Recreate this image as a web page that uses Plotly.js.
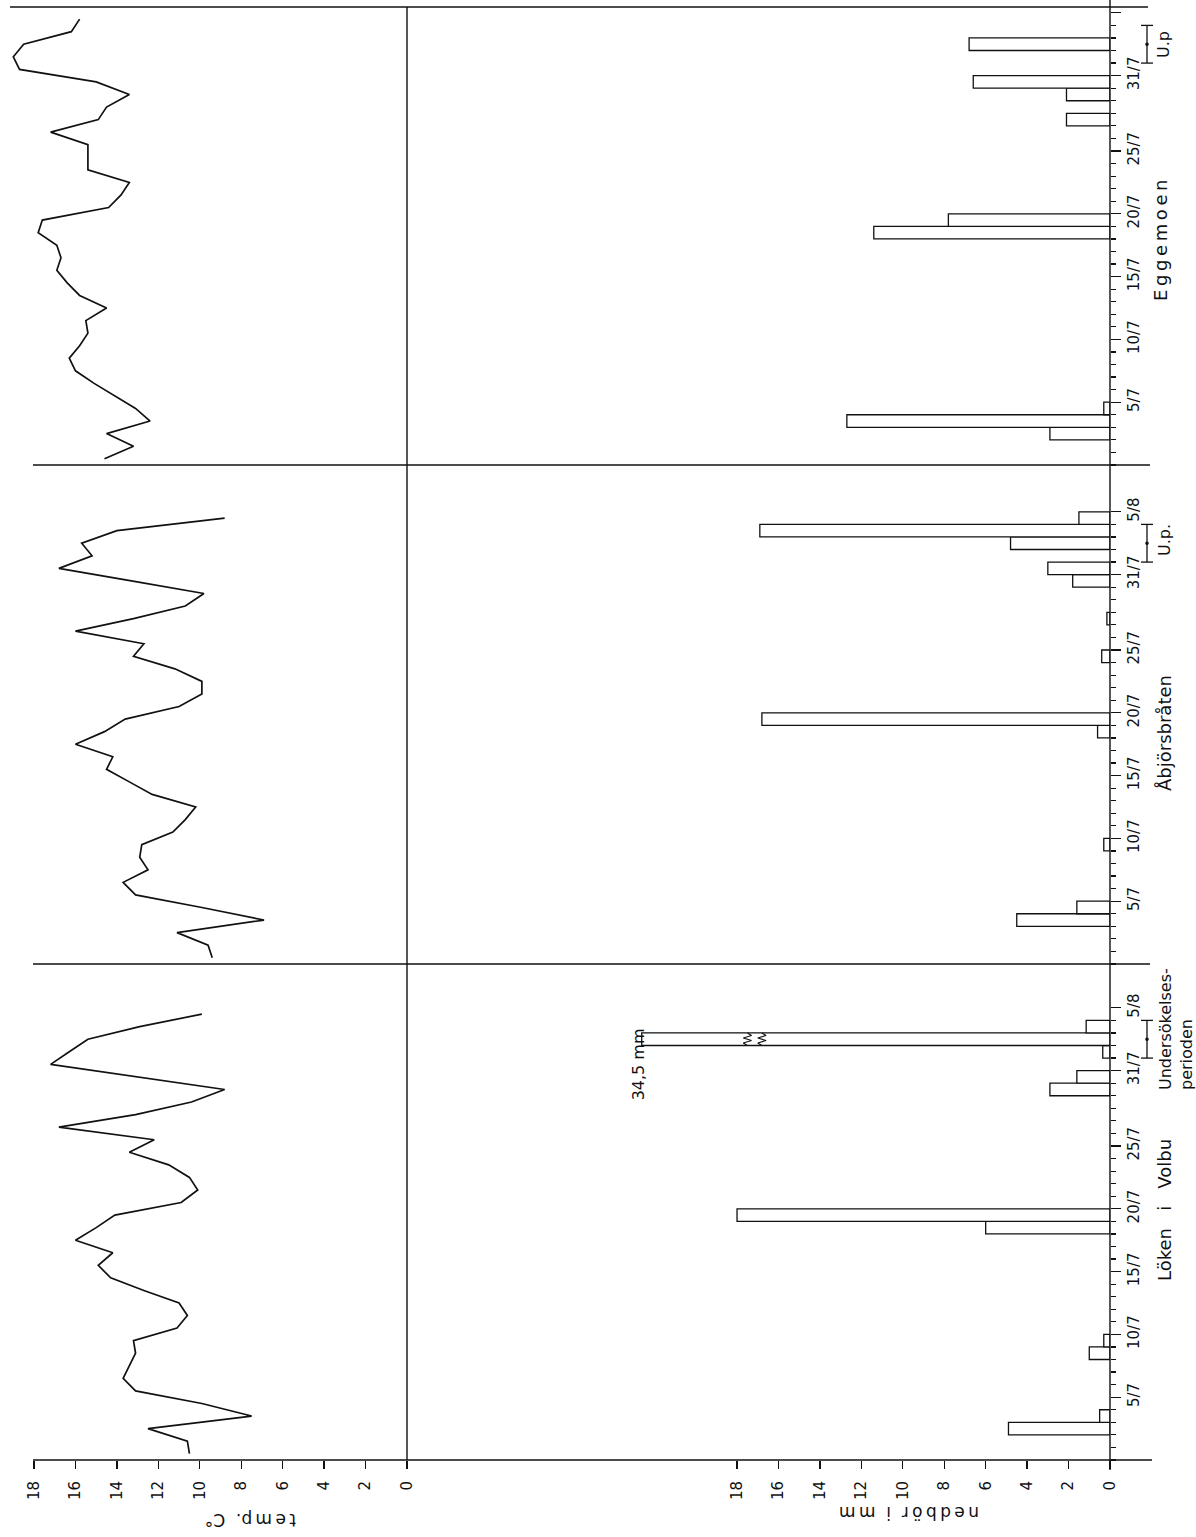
<!DOCTYPE html>
<html><head><meta charset="utf-8">
<script src="https://cdn.plot.ly/plotly-3.0.1.min.js"></script>
<style>html,body{margin:0;padding:0;background:#fff}#chart{width:1196px;height:1537px}</style>
</head><body><div id="chart"></div>
<script>
// ---------------- data ----------------
const dates = ['1/7','2/7','3/7','4/7','5/7','6/7','7/7','8/7','9/7','10/7','11/7','12/7','13/7','14/7','15/7','16/7','17/7','18/7','19/7','20/7','21/7','22/7','23/7','24/7','25/7','26/7','27/7','28/7','29/7','30/7','31/7','1/8','2/8','3/8','4/8','5/8'];
const tickLabels = ['5/7','10/7','15/7','20/7','25/7','31/7','5/8'];
const stations = ['Löken\u00a0\u00a0\u00a0i\u00a0\u00a0\u00a0Volbu','Åbjörsbråten','E\u2009g\u2009g\u2009e\u2009m\u2009o\u2009e\u2009n'];
const tempTicks = [0,2,4,6,8,10,12,14,16,18];
const precTicks = [0,2,4,6,8,10,12,14,16,18];
const upPeriod = ['1/8','4/8'];

// temperature (°C), one value per day
const tempLoken  = [10.5,10.6,12.5,7.5,9.9,13.1,13.7,13.4,13.1,13.2,11.1,10.6,11.0,12.7,14.3,14.9,14.2,16.0,15.0,14.1,10.9,10.1,10.5,11.5,13.4,12.2,16.8,13.1,10.4,8.8,13.1,17.2,16.3,15.4,12.9,9.9];
const tempAbjors = [9.4,9.6,11.1,6.9,9.9,13.1,13.7,12.5,12.9,12.8,11.3,10.7,10.2,12.3,13.4,14.5,14.2,16.0,14.6,13.6,11.0,9.9,9.9,11.2,13.2,12.7,16.0,13.2,10.7,9.8,13.3,16.8,15.2,15.7,14.0,8.8];
const tempEgge   = [14.6,13.2,14.5,12.4,13.1,14.1,15.1,16.0,16.3,15.8,15.4,15.5,14.5,15.8,16.4,16.9,16.7,16.9,17.8,17.6,14.4,13.8,13.4,15.4,15.4,15.4,17.2,14.9,14.5,13.4,15.0,18.7,19.0,18.5,16.2,15.8];

// precipitation (mm), one value per day
const precLoken  = [0,0,4.9,0.5,0,0,0,0,1.0,0.3,0,0,0,0,0,0,0,0,6.0,18.0,0,0,0,0,0,0,0,0,0,2.9,1.6,0,0.35,34.5,1.15,0];
const precAbjors = [0,0,0,4.5,1.6,0,0,0,0,0.3,0,0,0,0,0,0,0,0,0.6,16.8,0,0,0,0,0.4,0,0,0.15,0,0,1.8,3.0,0,4.8,16.9,1.5];
const precEgge   = [0,0,2.9,12.7,0.3,0,0,0,0,0,0,0,0,0,0,0,0,0,11.4,7.8,0,0,0,0,0,0,0,2.1,0,2.1,6.6,0,0,6.8,0,0];

// ---------------- layout constants ----------------
const W = 1196, H = 1537;
const X = px => px / W, Y = py => 1 - py / H;
const PXD = 12.56;         // px per day
const VPX = 20.72;         // px per unit on value axes
const ZERO_T = 407, ZERO_P = 1110, P_START = 430;
const BREAK_OVER = 20, BROKEN_LEN = 22.6;   // a bar above BREAK_OVER is drawn broken
const FONT = 'DejaVu Sans, Liberation Sans, sans-serif';
const INK = '#111';

const panels = [
  {ax:'y',  bot:1460, top:964, temp:tempLoken,  prec:precLoken},
  {ax:'y2', bot:964,  top:465, temp:tempAbjors, prec:precAbjors},
  {ax:'y3', bot:465,  top:7,   temp:tempEgge,   prec:precEgge}
];

const pos = dates.map((d, i) => i + 0.5);          // day interval centre
const tickPos = lbl => dates.indexOf(lbl) + 1;       // tick at end of the day interval

const traces = [];
const shapes = [];
const annotations = [];

panels.forEach(p => {
  traces.push({type:'scatter', mode:'lines', x:p.temp, y:pos, xaxis:'x', yaxis:p.ax,
    line:{color:INK, width:1.7}, hoverinfo:'skip', showlegend:false});
  const bx = [], by = [];
  p.prec.forEach((v, i) => { if (v > 0) { bx.push(v > BREAK_OVER ? BROKEN_LEN : v); by.push(pos[i]); } });
  traces.push({type:'bar', orientation:'h', x:bx, y:by, width:1, xaxis:'x2', yaxis:p.ax,
    marker:{color:'white', line:{color:INK, width:1.3}}, hoverinfo:'skip', showlegend:false});
  // broken-bar marks and value label
  p.prec.forEach((v, i) => {
    if (v > BREAK_OVER) {
      [17.5, 16.8].forEach(bx0 => {
        traces.push({type:'scatter', mode:'lines', xaxis:'x2', yaxis:p.ax, showlegend:false, hoverinfo:'skip',
          x:[bx0, bx0+0.2, bx0-0.2, bx0+0.2, bx0-0.2, bx0],
          y:[pos[i]-0.5, pos[i]-0.3, pos[i]-0.1, pos[i]+0.1, pos[i]+0.3, pos[i]+0.5],
          line:{color:INK, width:1.2}});
      });
      annotations.push({xref:'paper', yref:p.ax, x:X(638), y:pos[i] - 2.0, xanchor:'center', yanchor:'middle',
        text:v.toString().replace('.', ',') + '\u00a0mm', showarrow:false, textangle:-90,
        font:{family:FONT, size:16, color:INK}});
    }
  });
  // U.p. bracket
  const y0 = tickPos(upPeriod[0]), y1 = tickPos(upPeriod[1]), ym = (y0 + y1) / 2;
  shapes.push({type:'line', xref:'paper', yref:p.ax, x0:X(1147), x1:X(1147), y0:y0, y1:y1, line:{color:INK, width:1.3}});
  [y0, y1].forEach(yy => shapes.push({type:'line', xref:'paper', yref:p.ax, x0:X(1141), x1:X(1153), y0:yy, y1:yy, line:{color:INK, width:1.3}}));
  shapes.push({type:'circle', xref:'paper', yref:p.ax, xsizemode:'pixel', ysizemode:'pixel',
    xanchor:X(1147), yanchor:ym, x0:-1.8, x1:1.8, y0:-1.8, y1:1.8, fillcolor:INK, line:{width:0}});
});

// frame lines
const hl = (py, xa, xb) => shapes.push({type:'line', xref:'paper', yref:'paper', x0:X(xa), x1:X(xb), y0:Y(py), y1:Y(py), line:{color:INK, width:1.4}});
hl(7, 10, 1148); hl(465, 33, 1150); hl(964, 33, 1150); hl(1460, 33, 1152);
shapes.push({type:'line', xref:'paper', yref:'paper', x0:X(ZERO_T), x1:X(ZERO_T), y0:Y(7), y1:Y(1460), line:{color:INK, width:1.4}});
shapes.push({type:'line', xref:'paper', yref:'paper', x0:X(ZERO_P), x1:X(ZERO_P), y0:Y(0), y1:Y(1470), line:{color:INK, width:1.4}});

// text
const txt = (s, px, py, ang, size, extra) => annotations.push(Object.assign({xref:'paper', yref:'paper', x:X(px), y:Y(py), text:s,
  xanchor:'center', yanchor:'middle', showarrow:false, textangle:ang, font:{family:FONT, size:size, color:INK}}, extra || {}));
txt('t\u2009e\u2009m\u2009p.\u00a0\u00a0C°', 251, 1520, 180, 17);
txt('n\u2009e\u2009d\u2009b\u2009ö\u2009r\u00a0\u00a0i\u00a0\u00a0m\u2009m', 909, 1513, 180, 17);
txt(stations[0], 1164, 1210, -90, 18);
txt(stations[1], 1164, 733, -90, 18);
txt(stations[2], 1160, 240, -90, 18);
txt('Undersökelses-<br>perioden', 1176, 1029, -90, 16, {align:'left'});
txt('U.p.', 1164, 540, -90, 16);
txt('U.p', 1164, 45, -90, 16);

const valAxis = (dom, rng, vals) => ({domain:dom, range:rng, anchor:'y', tickmode:'array', tickvals:vals, ticktext:vals.map(String),
  ticks:'outside', ticklen:8, tickwidth:1.3, tickcolor:INK, tickangle:-90, ticklabelstandoff:6, showline:false, showgrid:false, zeroline:false,
  tickfont:{family:FONT, size:15, color:INK}, fixedrange:true});

const dayAxis = p => ({domain:[Y(p.bot), Y(p.top)], range:[0, (p.bot - p.top) / PXD], anchor:'x2', side:'right',
  tickmode:'array', tickvals:tickLabels.map(tickPos), ticktext:tickLabels, ticks:'outside', ticklen:10, tickwidth:1.3, tickcolor:INK,
  tickangle:-90, tickfont:{family:FONT, size:15, color:INK}, showline:false, showgrid:false, zeroline:false, fixedrange:true,
  minor:{tickmode:'array', tickvals:dates.map((d, i) => i + 1).concat([0]), ticks:'outside', ticklen:5, tickwidth:1.2, tickcolor:INK, showgrid:false}});

const layout = {
  width:W, height:H, margin:{l:0, r:0, t:0, b:0}, paper_bgcolor:'white', plot_bgcolor:'rgba(0,0,0,0)',
  showlegend:false, bargap:0,
  xaxis: valAxis([0, X(ZERO_T)], [ZERO_T / VPX, 0], tempTicks),
  xaxis2: valAxis([X(P_START), X(ZERO_P)], [(ZERO_P - P_START) / VPX, 0], precTicks),
  yaxis: dayAxis(panels[0]), yaxis2: dayAxis(panels[1]), yaxis3: dayAxis(panels[2]),
  shapes:shapes, annotations:annotations
};

Plotly.newPlot('chart', traces, layout, {staticPlot:true, displayModeBar:false});
</script></body></html>
